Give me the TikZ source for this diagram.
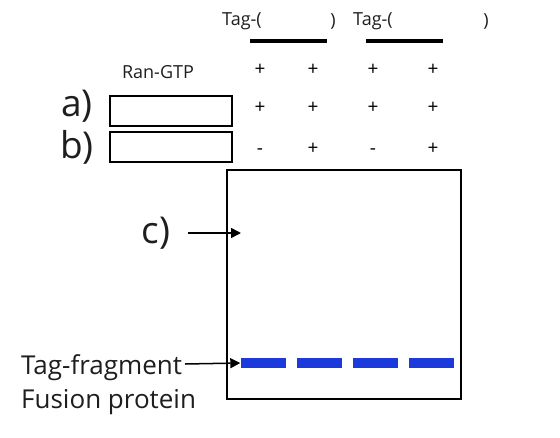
\documentclass[tikz,border=0pt]{standalone}
\usepackage{fontspec}
\setmainfont{Open Sans}
\usetikzlibrary{arrows.meta}

\definecolor{bandblue}{RGB}{28,58,220}
\definecolor{inkgray}{RGB}{30,30,30}

\begin{document}
\begin{tikzpicture}[
    x=1pt, y=-1pt,
    lbl/.style={font=\fontsize{18}{20}\selectfont, inner sep=0pt, text=inkgray},
    biglbl/.style={font=\fontsize{37}{39}\selectfont, inner sep=0pt, text=inkgray},
    sign/.style={font=\fontsize{19}{21}\selectfont, inner sep=0pt, anchor=base},
    side/.style={font=\fontsize{26}{28}\selectfont, inner sep=0pt, anchor=west, text=inkgray},
    slot/.style={draw, line width=1.6pt, minimum width=122pt, minimum height=30pt, inner sep=0pt},
    band/.style={fill=bandblue, minimum width=45pt, minimum height=10pt, inner sep=0pt},
    arr/.style={-{Triangle[length=10pt,width=10pt]}, line width=1.5pt}
  ]
  \useasboundingbox (0,0) rectangle (560,437);
  % header
  \node[lbl] (tag1) at (242,21) {Tag-(};
  \node[lbl] (cl1) at (333,21) {)};
  \node[lbl] (tag2) at (373,21) {Tag-(};
  \node[lbl] (cl2) at (486,21) {)};
  \draw[line width=4pt] (250,41) -- (327,41);
  \draw[line width=4pt] (366,41) -- (443,41);
  \node[lbl] (ran) at (158,72) {Ran-GTP};
  % rows
  \node[biglbl] (la) at (77,106) {a)};
  \node[biglbl] (lb) at (77,147) {b)};
  \node[slot] (boxa) at (171,111) {};
  \node[slot] (boxb) at (171,147) {};
  \foreach \x/\a/\b in {260/+/-, 313/+/+, 373/+/-, 433/+/+} {
    \node[sign] at (\x,75) {+};
    \node[sign] at (\x,113) {\a};
    \node[sign] at (\x,154) {\b};
  }
  % gel
  \draw[line width=1.4pt] (227,170) rectangle (461,399);
  \foreach \x [count=\i] in {263,319,375,431}
    \node[band] (band\i) at (\x,363) {};
  % labels at left
  \node[biglbl] (lc) at (156,233) {c)};
  \coordinate (cstart) at (188,233);
  \coordinate (ctip) at (241,233);
  \draw[arr] (cstart) -- (ctip);
  \node[side] (frag) at (21,368) {Tag-fragment};
  \node[side] (fus) at (21,402) {Fusion protein};
  \coordinate (fstart) at (185,364);
  \draw[arr] (fstart) -- (band1.west);
\end{tikzpicture}
\end{document}
